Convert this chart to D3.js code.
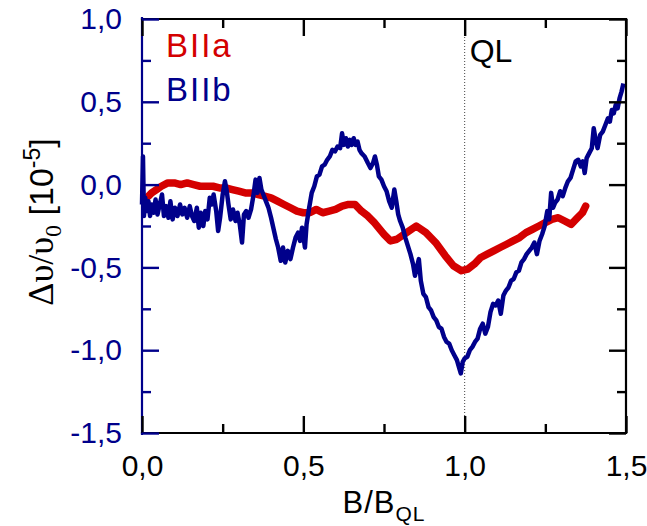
<!DOCTYPE html>
<html>
<head>
<meta charset="utf-8">
<script src="https://cdn.jsdelivr.net/npm/d3@7"></script>
<style>
    body { margin: 0; background: #fff; }
    svg { display: block; font-family: Arial, "Liberation Sans", sans-serif; }
</style>
</head>
<body>
<div id="chart"></div>
<script>
// BIIa (red) trace
const bIIaX = [0.020, 0.030, 0.045, 0.060, 0.080, 0.100, 0.120, 0.140, 0.160, 0.180, 0.200, 0.220, 0.240, 0.260,
    0.280, 0.300, 0.320, 0.340, 0.360, 0.380, 0.400, 0.420, 0.440, 0.460, 0.480, 0.500, 0.520, 0.540, 0.560,
    0.580, 0.600, 0.620, 0.640, 0.660, 0.680, 0.700, 0.720, 0.750, 0.770, 0.790, 0.820, 0.850, 0.880, 0.910,
    0.940, 0.965, 0.990, 1.010, 1.030, 1.050, 1.070, 1.090, 1.110, 1.130, 1.150, 1.170, 1.190, 1.210, 1.230,
    1.250, 1.270, 1.290, 1.310, 1.330, 1.350, 1.365, 1.375];
const bIIaY = [-0.07, -0.05, -0.03, -0.01, 0.01, 0.01, 0.00, 0.01, 0.00, -0.01, -0.01, -0.01, -0.02, -0.02,
    -0.03, -0.04, -0.05, -0.05, -0.06, -0.07, -0.08, -0.10, -0.12, -0.14, -0.16, -0.17, -0.17, -0.15, -0.17,
    -0.16, -0.15, -0.13, -0.12, -0.12, -0.16, -0.19, -0.23, -0.30, -0.34, -0.33, -0.29, -0.25, -0.29, -0.35,
    -0.43, -0.49, -0.52, -0.51, -0.48, -0.44, -0.42, -0.40, -0.38, -0.36, -0.34, -0.32, -0.29, -0.27, -0.25,
    -0.23, -0.21, -0.20, -0.22, -0.24, -0.20, -0.17, -0.13];

// BIIb (navy) trace
const bIIbX = [0.000, 0.003, 0.006, 0.010, 0.015, 0.020, 0.025, 0.030, 0.036, 0.042, 0.048, 0.055, 0.062, 0.068,
    0.075, 0.082, 0.088, 0.095, 0.102, 0.110, 0.118, 0.125, 0.132, 0.140, 0.148, 0.155, 0.162, 0.170, 0.176,
    0.182, 0.190, 0.196, 0.203, 0.210, 0.216, 0.222, 0.230, 0.236, 0.242, 0.250, 0.257, 0.262, 0.268, 0.275,
    0.282, 0.290, 0.296, 0.303, 0.310, 0.316, 0.323, 0.330, 0.338, 0.345, 0.352, 0.358, 0.364, 0.370, 0.376,
    0.384, 0.392, 0.400, 0.408, 0.415, 0.422, 0.430, 0.437, 0.444, 0.452, 0.460, 0.468, 0.476, 0.484, 0.490,
    0.496, 0.500, 0.505, 0.510, 0.518, 0.526, 0.534, 0.542, 0.550, 0.558, 0.566, 0.574, 0.582, 0.590, 0.598,
    0.606, 0.614, 0.620, 0.626, 0.632, 0.638, 0.644, 0.650, 0.656, 0.662, 0.668, 0.674, 0.680, 0.690, 0.700,
    0.708, 0.716, 0.722, 0.728, 0.734, 0.742, 0.750, 0.758, 0.766, 0.774, 0.782, 0.788, 0.794, 0.800, 0.808,
    0.816, 0.824, 0.832, 0.840, 0.846, 0.852, 0.858, 0.864, 0.872, 0.880, 0.888, 0.896, 0.904, 0.912, 0.920,
    0.928, 0.936, 0.944, 0.952, 0.960, 0.968, 0.976, 0.982, 0.988, 0.994, 1.000, 1.008, 1.016, 1.024, 1.032,
    1.040, 1.048, 1.056, 1.064, 1.072, 1.080, 1.088, 1.096, 1.104, 1.112, 1.120, 1.128, 1.136, 1.144, 1.152,
    1.160, 1.168, 1.176, 1.184, 1.192, 1.200, 1.208, 1.216, 1.224, 1.232, 1.240, 1.248, 1.256, 1.262, 1.268,
    1.274, 1.280, 1.288, 1.296, 1.304, 1.312, 1.320, 1.328, 1.336, 1.344, 1.352, 1.360, 1.366, 1.372, 1.378,
    1.386, 1.394, 1.400, 1.406, 1.412, 1.420, 1.428, 1.436, 1.444, 1.450, 1.456, 1.462, 1.468, 1.474, 1.480,
    1.486, 1.492];
const bIIbY = [-0.12, 0.17, -0.19, -0.08, -0.16, -0.10, -0.19, -0.12, -0.17, -0.09, -0.18, -0.12, -0.06, -0.19,
    -0.13, -0.20, -0.10, -0.21, -0.14, -0.19, -0.12, -0.18, -0.14, -0.20, -0.13, -0.19, -0.22, -0.14, -0.26,
    -0.17, -0.25, -0.16, -0.21, -0.08, -0.12, -0.06, -0.16, -0.28, -0.20, -0.06, 0.02, -0.03, -0.12, -0.21,
    -0.15, -0.22, -0.17, -0.24, -0.35, -0.18, -0.16, -0.20, -0.15, -0.07, 0.03, -0.05, 0.04, -0.03, -0.06,
    -0.10, -0.14, -0.20, -0.27, -0.33, -0.38, -0.46, -0.38, -0.47, -0.40, -0.45, -0.38, -0.32, -0.29, -0.34,
    -0.26, -0.31, -0.38, -0.24, -0.14, -0.05, -0.01, 0.05, 0.06, 0.11, 0.12, 0.15, 0.17, 0.21, 0.20,
    0.23, 0.22, 0.31, 0.24, 0.28, 0.23, 0.27, 0.24, 0.28, 0.24, 0.26, 0.21, 0.19, 0.17, 0.13,
    0.10, 0.13, 0.17, 0.12, 0.05, 0.03, -0.01, -0.04, -0.10, -0.14, -0.03, -0.10, -0.18, -0.22, -0.26,
    -0.32, -0.37, -0.42, -0.48, -0.55, -0.50, -0.45, -0.58, -0.66, -0.68, -0.74, -0.76, -0.80, -0.82, -0.86,
    -0.87, -0.92, -0.95, -0.96, -1.00, -1.03, -1.06, -1.10, -1.14, -1.07, -1.05, -1.04, -1.00, -0.98, -0.95,
    -0.93, -0.87, -0.84, -0.90, -0.86, -0.77, -0.72, -0.73, -0.70, -0.78, -0.67, -0.64, -0.62, -0.58, -0.57,
    -0.53, -0.52, -0.47, -0.45, -0.42, -0.40, -0.38, -0.35, -0.42, -0.34, -0.30, -0.25, -0.16, -0.21, -0.05,
    -0.14, -0.11, -0.09, -0.04, -0.07, -0.02, 0.02, 0.04, 0.09, 0.14, 0.15, 0.11, 0.14, 0.07, 0.16,
    0.19, 0.22, 0.34, 0.27, 0.22, 0.30, 0.32, 0.36, 0.40, 0.38, 0.45, 0.43, 0.48, 0.46, 0.52,
    0.56, 0.61];

// axis ticks
const xTicks = [0, 0.5, 1.0, 1.5];
const xMinorTicks = [0.25, 0.75, 1.25];
const yTicks = [-1.5, -1.0, -0.5, 0, 0.5, 1.0];
const yMinorTicks = [-1.25, -0.75, -0.25, 0.25, 0.75];
const xDomain = [0, 1.5];
const yDomain = [-1.5, 1.0];
const seriesNames = ['BIIa', 'BIIb'];
const qlValue = 1.0;

class ShiftChart {
    constructor(_config) {
        this.config = {
            parentElement: _config.parentElement,
            containerWidth: _config.containerWidth || 647,
            containerHeight: _config.containerHeight || 526,
            margin: _config.margin || { top: 19, right: 21, bottom: 93, left: 142 }
        };
        this.red = '#d40000';
        this.navy = '#00008b';
        this.initVis();
    }

    initVis() {
        let vis = this;

        vis.width = vis.config.containerWidth - vis.config.margin.left - vis.config.margin.right;
        vis.height = vis.config.containerHeight - vis.config.margin.top - vis.config.margin.bottom;

        vis.svg = d3.select(vis.config.parentElement).append('svg')
            .attr('width', vis.config.containerWidth)
            .attr('height', vis.config.containerHeight);

        vis.chart = vis.svg.append('g')
            .attr('transform', `translate(${vis.config.margin.left},${vis.config.margin.top})`);

        vis.xScale = d3.scaleLinear().domain(xDomain).range([0, vis.width]);
        vis.yScale = d3.scaleLinear().domain(yDomain).range([vis.height, 0]);

        // comma decimals
        vis.fmt = d3.formatLocale({ decimal: ',', thousands: '.', grouping: [3], currency: ['', ''], minus: '-' }).format('.1f');
    }

    renderVis() {
        let vis = this;
        const w = vis.width, h = vis.height;

        // dotted QL marker
        vis.chart.append('line')
            .attr('x1', vis.xScale(qlValue)).attr('x2', vis.xScale(qlValue))
            .attr('y1', 0).attr('y2', h)
            .attr('stroke', '#444').attr('stroke-width', 1)
            .attr('stroke-dasharray', '1,2');

        // curves
        const line = d3.line()
            .x(d => vis.xScale(d[0]))
            .y(d => vis.yScale(d[1]));

        vis.chart.append('path')
            .datum(d3.zip(bIIaX, bIIaY))
            .attr('fill', 'none')
            .attr('stroke', vis.red)
            .attr('stroke-width', 7.5)
            .attr('stroke-linejoin', 'round')
            .attr('stroke-linecap', 'round')
            .attr('d', line);

        vis.chart.append('path')
            .datum(d3.zip(bIIbX, bIIbY))
            .attr('fill', 'none')
            .attr('stroke', vis.navy)
            .attr('stroke-width', 4.5)
            .attr('stroke-linejoin', 'round')
            .attr('d', line);

        // frame
        const frame = [
            { x1: 0, y1: 0, x2: w, y2: 0, c: '#000' },
            { x1: w, y1: 0, x2: w, y2: h, c: '#000' },
            { x1: 0, y1: h, x2: w, y2: h, c: '#000' },
            { x1: 0, y1: -1, x2: 0, y2: h + 1, c: vis.navy }
        ];
        vis.chart.selectAll('.frame')
            .data(frame)
            .join('line')
            .attr('class', 'frame')
            .attr('x1', d => d.x1).attr('y1', d => d.y1)
            .attr('x2', d => d.x2).attr('y2', d => d.y2)
            .attr('stroke', d => d.c)
            .attr('stroke-width', 2.2)
            .attr('stroke-linecap', 'square');

        // ticks, all pointing inward
        const axisPieces = [
            { axis: d3.axisBottom(vis.xScale).tickValues(xTicks).tickSize(-17).tickPadding(22).tickFormat(vis.fmt), t: `translate(0,${h})`, c: '#000' },
            { axis: d3.axisBottom(vis.xScale).tickValues(xMinorTicks).tickSize(-9).tickFormat(''), t: `translate(0,${h})`, c: '#000' },
            { axis: d3.axisTop(vis.xScale).tickValues(xTicks).tickSize(-17).tickFormat(''), t: 'translate(0,0)', c: '#000' },
            { axis: d3.axisTop(vis.xScale).tickValues(xMinorTicks).tickSize(-9).tickFormat(''), t: 'translate(0,0)', c: '#000' },
            { axis: d3.axisRight(vis.yScale).tickValues(yTicks).tickSize(-17).tickFormat(''), t: `translate(${w},0)`, c: '#000' },
            { axis: d3.axisRight(vis.yScale).tickValues(yMinorTicks).tickSize(-9).tickFormat(''), t: `translate(${w},0)`, c: '#000' },
            { axis: d3.axisLeft(vis.yScale).tickValues(yTicks).tickSize(-17).tickPadding(20).tickFormat(vis.fmt), t: 'translate(0,0)', c: vis.navy },
            { axis: d3.axisLeft(vis.yScale).tickValues(yMinorTicks).tickSize(-9).tickFormat(''), t: 'translate(0,0)', c: vis.navy }
        ];
        axisPieces.forEach(p => {
            const g = vis.chart.append('g')
                .attr('transform', p.t)
                .call(p.axis)
                .call(g => g.select('.domain').remove());
            g.selectAll('.tick line').attr('stroke', p.c).attr('stroke-width', 2.4);
            g.selectAll('.tick text')
                .attr('fill', p.c)
                .style('font-size', '30px')
                .style('font-family', 'Arial, "Liberation Sans", sans-serif');
        });

        // legend
        vis.chart.append('text')
            .attr('x', 24).attr('y', 38)
            .attr('fill', vis.red)
            .style('font-size', '33px')
            .style('letter-spacing', '2px')
            .text(seriesNames[0]);
        vis.chart.append('text')
            .attr('x', 24).attr('y', 82)
            .attr('fill', vis.navy)
            .style('font-size', '33px')
            .style('letter-spacing', '2px')
            .text(seriesNames[1]);

        vis.chart.append('text')
            .attr('x', vis.xScale(qlValue) + 5).attr('y', 43)
            .attr('fill', '#000')
            .style('font-size', '32px')
            .text('QL');

        // x axis title
        const xt = vis.svg.append('text')
            .attr('x', 384)
            .attr('y', 513)
            .attr('text-anchor', 'middle')
            .attr('fill', '#000')
            .style('font-size', '31px')
            .style('letter-spacing', '1px');
        xt.append('tspan').text('B/B');
        xt.append('tspan').attr('dy', 8).style('font-size', '21px').text('QL');

        // y axis title
        const yt = vis.svg.append('text')
            .attr('transform', `translate(53,222) rotate(-90)`)
            .attr('text-anchor', 'middle')
            .attr('fill', '#000')
            .style('font-size', '34px');
        yt.append('tspan').style('font-family', '"Liberation Serif", "DejaVu Serif", serif').style('font-size', '36px').text('Δυ/υ');
        yt.append('tspan').attr('dy', 8).style('font-family', '"Liberation Serif", serif').style('font-size', '24px').text('0');
        yt.append('tspan').attr('dy', -8).text(' [10');
        yt.append('tspan').attr('dy', -13).style('font-size', '23px').text('-5');
        yt.append('tspan').attr('dy', 13).text(']');
    }
}

const chart = new ShiftChart({ parentElement: '#chart' });
chart.renderVis();
</script>
</body>
</html>
